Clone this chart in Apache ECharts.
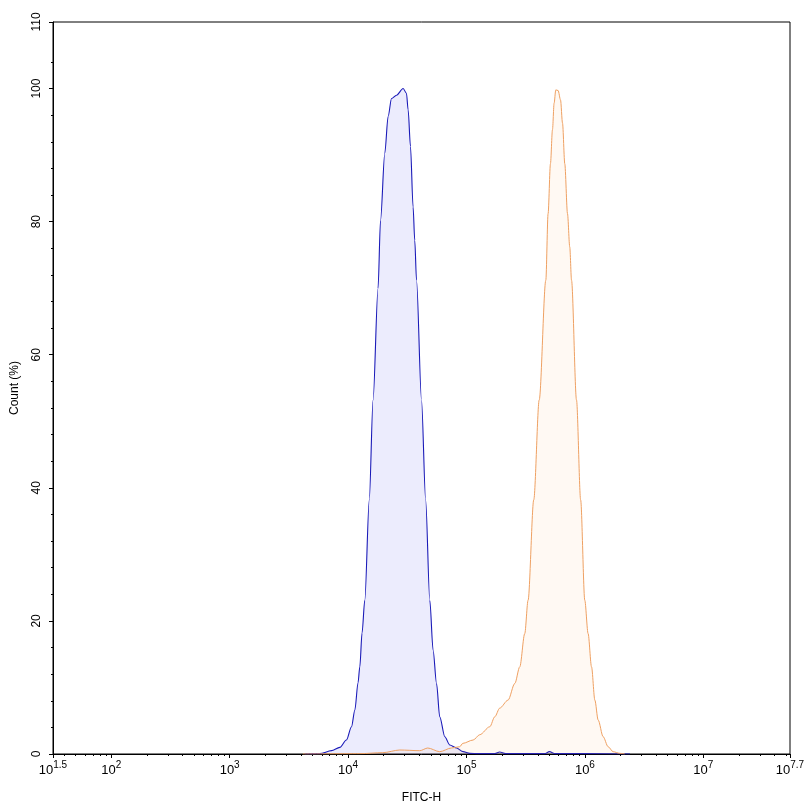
<!DOCTYPE html>
<html>
<head>
<meta charset="utf-8">
<title>FITC-H histogram</title>
<script src="https://cdn.jsdelivr.net/npm/echarts@6/dist/echarts.min.js"></script>
<style>
  html, body { margin: 0; padding: 0; background: #fff; }
  #chart { width: 804px; height: 807px; }
</style>
</head>
<body>
<div id="chart"></div>
<script>
// x values are log10(FITC-H)
const blueExp = [3.634, 3.761, 3.860, 3.930, 3.986, 4.029, 4.057, 4.084, 4.099, 4.118, 4.141, 4.179, 4.211,
  4.253, 4.274, 4.310, 4.338, 4.367, 4.409, 4.465, 4.493, 4.507, 4.527, 4.549, 4.563, 4.578, 4.620, 4.655,
  4.690, 4.718, 4.747, 4.774, 4.817, 4.859, 4.916, 4.971, 5.028, 5.10, 5.24, 5.28, 5.33, 5.66, 5.70, 5.75, 6.0, 6.38]
const blueCount = [0, 0.05, 0.5, 1.0, 2.1, 4.1, 6.6, 10.7, 13.1, 18.2, 23.1, 38.2, 53.2,
  70.0, 80.2, 90.3, 95.8, 98.5, 99.0, 100, 99.3, 96.8, 91.3, 82.2, 77.2, 71.2, 53.2, 38.2,
  23.1, 15.6, 10.6, 5.6, 2.6, 1.35, 0.9, 0.35, 0.1, 0.05, 0.05, 0.3, 0.05, 0.05, 0.35, 0.05, 0.05, 0]

const orangeExp = [3.618, 4.10, 4.293, 4.437, 4.606, 4.673, 4.774, 4.873, 4.943, 4.969, 5.056, 5.112, 5.197,
  5.239, 5.281, 5.351, 5.408, 5.450, 5.492, 5.520, 5.568, 5.614, 5.670, 5.689, 5.709, 5.726, 5.740, 5.754,
  5.774, 5.794, 5.811, 5.830, 5.853, 5.872, 5.887, 5.929, 5.964, 5.999, 6.027, 6.056, 6.084, 6.112, 6.154,
  6.196, 6.238, 6.295, 6.337]
const orangeCount = [0, 0.05, 0.2, 0.6, 0.5, 0.9, 0.35, 0.9, 1.1, 1.6, 2.1, 2.9, 4.1,
  5.6, 6.9, 8.1, 10.6, 13.1, 18.1, 23.1, 38.2, 53.2, 71.2, 81.2, 88.7, 93.8, 97.8, 99.8,
  99.7, 98.3, 94.8, 88.7, 81.2, 76.2, 71.2, 53.2, 38.2, 23.1, 18.1, 13.1, 8.1, 5.1, 2.6,
  1.1, 0.35, 0.1, 0]

// axis ticks
const xMin = 1.508
const xMax = 7.732
const xTickVals = [xMin, 2, 3, 4, 5, 6, 7, xMax]
const xTickLabels = ['1.5', '2', '3', '4', '5', '6', '7', '7.7']
const yMajor = [0, 20, 40, 60, 80, 100, 110]
const yMinor = [4, 8, 12, 16, 24, 28, 32, 36, 44, 48, 52, 56, 64, 68, 72, 76, 84, 88, 92, 96, 104]

// log minor ticks at 2..9 x 10^n
const xMinor = []
for (let n = 1; n <= 7; n++) {
  for (let k = 2; k <= 9; k++) {
    const v = Math.log10(k * Math.pow(10, n))
    if (v > xMin && v < xMax) xMinor.push(v)
  }
}

const FONT = 'Liberation Sans, Arial, sans-serif'

const chart = echarts.init(document.getElementById('chart'))

const option = {
  backgroundColor: '#fff',
  animation: false,
  grid: {
    left: 53, right: 14, top: 22, bottom: 53,
    outerBoundsMode: 'none',
    containLabel: false,
    show: true, borderColor: '#000', borderWidth: 1, backgroundColor: 'transparent'
  },
  xAxis: [{
    type: 'value',
    min: xMin, max: xMax,
    position: 'bottom',
    name: 'FITC-H',
    nameLocation: 'middle',
    nameGap: 38,
    nameTextStyle: { color: '#000', fontSize: 12, fontFamily: FONT },
    axisLine: { lineStyle: { color: '#000', width: 1 } },
    axisTick: { customValues: xTickVals, length: 4, lineStyle: { color: '#000' } },
    splitLine: { show: false },
    axisLabel: {
      customValues: xTickVals,
      margin: 6,
      color: '#000',
      formatter: v => {
        const i = xTickVals.findIndex(t => Math.abs(t - v) < 1e-6)
        return '{b|10}{s|' + (i >= 0 ? xTickLabels[i] : '') + '}'
      },
      rich: {
        b: { fontSize: 13, fontFamily: FONT, color: '#000', verticalAlign: 'bottom' },
        s: { fontSize: 10, fontFamily: FONT, color: '#000', verticalAlign: 'bottom', padding: [0, 0, 7, 0] }
      }
    }
  }, {
    type: 'value',
    min: xMin, max: xMax,
    position: 'bottom',
    offset: 0,
    axisLine: { show: false },
    axisTick: { customValues: xMinor, length: 2, lineStyle: { color: '#000' } },
    axisLabel: { show: false },
    splitLine: { show: false }
  }],
  yAxis: [{
    type: 'value',
    min: 0, max: 110,
    position: 'left',
    name: 'Count (%)',
    nameLocation: 'middle',
    nameGap: 32,
    nameRotate: 90,
    nameTextStyle: { color: '#000', fontSize: 12, fontFamily: FONT },
    axisLine: { show: true, lineStyle: { color: '#000', width: 1 } },
    axisTick: { show: true, customValues: yMajor, length: 4, lineStyle: { color: '#000' } },
    splitLine: { show: false },
    axisLabel: {
      customValues: yMajor,
      rotate: 90,
      margin: 10,
      color: '#000',
      fontSize: 12,
      fontFamily: FONT
    }
  }, {
    type: 'value',
    min: 0, max: 110,
    position: 'left',
    offset: 0,
    axisLine: { show: false },
    axisTick: { show: true, customValues: yMinor, length: 2, lineStyle: { color: '#000' } },
    axisLabel: { show: false },
    splitLine: { show: false }
  }],
  series: [{
    name: 'control',
    type: 'line',
    data: blueExp.map((x, i) => [x, blueCount[i]]),
    showSymbol: false,
    smooth: 0.3,
    smoothMonotone: 'x',
    lineStyle: { color: '#1a1ab8', width: 1.1 },
    areaStyle: { color: 'rgba(40, 40, 230, 0.12)' },
    z: 2
  }, {
    name: 'FITC',
    type: 'line',
    data: orangeExp.map((x, i) => [x, orangeCount[i]]),
    showSymbol: false,
    smooth: 0.3,
    smoothMonotone: 'x',
    lineStyle: { color: '#eea062', width: 1 },
    areaStyle: { color: 'rgba(250, 170, 90, 0.1)' },
    z: 3
  }]
}

chart.setOption(option)
</script>
</body>
</html>
